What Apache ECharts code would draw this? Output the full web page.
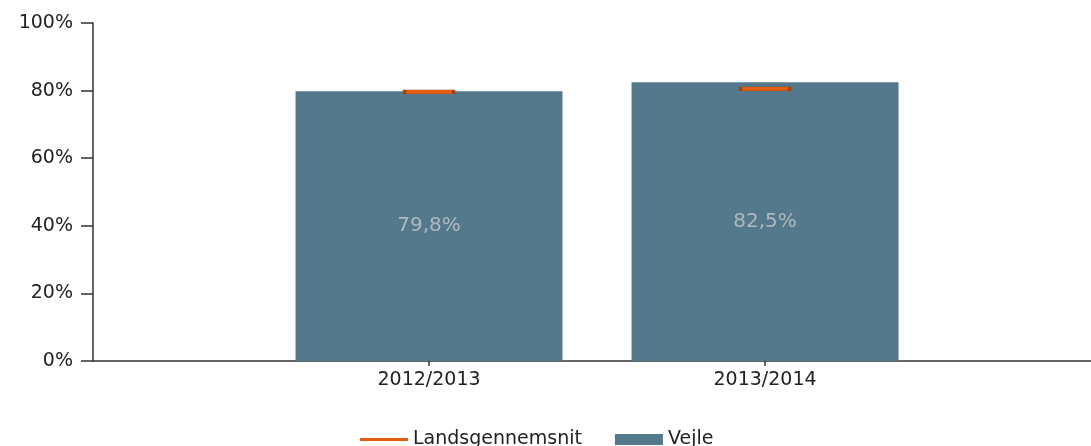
<!DOCTYPE html>
<html>
<head>
<meta charset="utf-8">
<script src="https://cdn.jsdelivr.net/npm/echarts@6/dist/echarts.min.js"></script>
<style>
  html, body { margin: 0; padding: 0; background: #fff; }
  #chart { width: 1091px; height: 446px; }
</style>
</head>
<body>
<div id="chart"></div>
<script>
// data
const categories = ['2012/2013', '2013/2014']
const vejle = [79.8, 82.5]
const landsgennemsnit = [79.6, 80.5]
const yTicks = [0, 20, 40, 60, 80, 100]

// years sit at x = 1, 2 on a numeric axis that runs a bit short of 3
const slots = categories.map((c, i) => i + 1)
const pairs = arr => arr.map((v, i) => [slots[i], v])

const fmtPct = v => v.toFixed(1).replace('.', ',') + '%'
const font = 'DejaVu Sans'

const chart = echarts.init(document.getElementById('chart'), null, { renderer: 'canvas' })

chart.setOption({
  backgroundColor: '#fff',
  animation: false,
  grid: { left: 93, top: 23, right: 0, height: 338 },
  legend: {
    left: 355,
    top: 425,
    itemWidth: 48,
    itemHeight: 11,
    itemGap: 33,
    textStyle: { fontFamily: font, fontSize: 19, color: '#222' },
    data: [
      { name: 'Landsgennemsnit', icon: 'path://M0,0H45V3H0Z', itemStyle: { color: '#e35d12', borderWidth: 0 } },
      { name: 'Vejle', icon: 'rect' }
    ]
  },
  xAxis: {
    type: 'value',
    min: 0,
    max: 2.97,
    axisLine: { lineStyle: { color: '#333', width: 1.5 } },
    axisTick: {
      length: 5,
      customValues: slots,
      lineStyle: { color: '#333', width: 1.5 }
    },
    axisLabel: {
      margin: 10,
      customValues: slots,
      formatter: (v) => categories[Math.round(v) - 1] || '',
      fontFamily: font,
      fontSize: 19,
      color: '#222'
    },
    splitLine: { show: false }
  },
  yAxis: {
    type: 'value',
    min: yTicks[0],
    max: yTicks[yTicks.length - 1],
    interval: 20,
    axisLine: { show: true, lineStyle: { color: '#333', width: 1.5 } },
    axisTick: { show: true, length: 12, lineStyle: { color: '#333', width: 1.5 } },
    axisLabel: {
      margin: 20,
      formatter: '{value}%',
      fontFamily: font,
      fontSize: 19,
      color: '#222'
    },
    splitLine: { show: false }
  },
  series: [
    {
      name: 'Vejle',
      type: 'bar',
      data: pairs(vejle),
      barWidth: 267,
      itemStyle: { color: '#54798c' },
      label: {
        show: true,
        position: 'inside',
        formatter: (p) => fmtPct(p.value[1]),
        fontFamily: font,
        fontSize: 20,
        color: '#aeb8be'
      },
      z: 2
    },
    {
      name: 'Landsgennemsnit',
      type: 'scatter',
      data: pairs(landsgennemsnit),
      symbol: 'rect',
      symbolSize: [49, 4],
      itemStyle: { color: '#e35d12', borderColor: '#a8400a', borderWidth: 1, opacity: 1 },
      z: 5
    }
  ]
})
</script>
</body>
</html>
